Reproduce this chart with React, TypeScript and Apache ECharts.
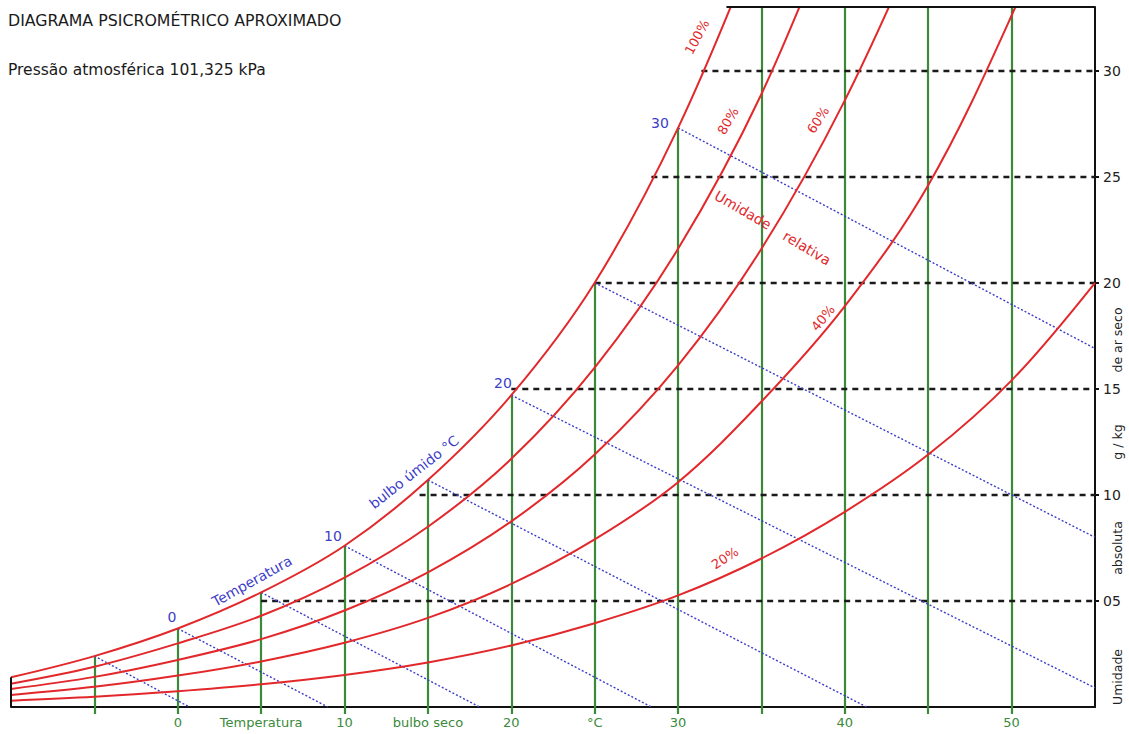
import React, { useEffect, useRef } from "react";
import * as echarts from "echarts";

// Dry-bulb temperatures (°C) at which the relative-humidity curves were read
const temps = [-10, -5, 0, 5, 10, 15, 20, 25, 30, 35, 40, 45, 50, 55];
// Absolute humidity (g/kg dry air)
const rh100 = [1.4, 2.4, 3.7, 5.4, 7.6, 10.7, 14.7, 20.0, 27.3, 36.6];
const rh80 = [1.1, 1.9, 3.0, 4.3, 6.1, 8.5, 11.7, 16.0, 21.6, 28.9, 38.3];
const rh60 = [0.85, 1.42, 2.22, 3.2, 4.55, 6.35, 8.75, 11.9, 16.1, 21.6, 28.6, 37.2];
const rh40 = [0.57, 0.95, 1.48, 2.15, 3.03, 4.2, 5.8, 7.9, 10.6, 14.4, 18.9, 24.6, 32.6, 42.0];
const rh20 = [0.3, 0.48, 0.74, 1.07, 1.51, 2.1, 2.9, 3.95, 5.26, 7.0, 9.2, 11.9, 15.4, 20.0];
const rhSeries = [rh100, rh80, rh60, rh40, rh20];
const rhNames = ["100%", "80%", "60%", "40%", "20%"];

// Vertical dry-bulb lines
const greenTemps = [-5, 0, 5, 10, 15, 20, 25, 30, 35, 40, 45, 50];
// Wet-bulb lines: start on saturation, end points
const wbTemps = [-5, 0, 5, 10, 15, 20, 25, 30];
const wbEnds = [
  [0.7, 0],
  [9.0, 0],
  [18.1, 0],
  [28.4, 0],
  [41.3, 0],
  [55, 0.9],
  [55, 8.0],
  [55, 16.9],
];
// Horizontal absolute-humidity lines
const dryLevels = [5, 10, 15, 20, 25, 30];
const dryStarts = [5.0, 14.5, 20.0, 25.0, 28.4, 31.4];
const satTopTemp = 32.9;

const xTickValues = [-5, 0, 5, 10, 15, 20, 25, 30, 35, 40, 45, 50];
const xLabelValues = [0, 5, 10, 15, 20, 25, 30, 40, 50];
const xLabelTexts = ["0", "Temperatura", "10", "bulbo seco", "20", "°C", "30", "40", "50"];
const yLabelValues = [5, 10, 15, 20, 25, 30];
const yLabelTexts = ["05", "10", "15", "20", "25", "30"];

const X_MIN = -10;
const X_MAX = 55;
const Y_MAX = 33;

const RED = "#e2282b";
const GREEN = "#3a8a3a";
const BLUE = "#3c3cc8";
const FONT = "DejaVu Sans";

function satAt(t: number): number {
  const i = temps.indexOf(t);
  return i >= 0 && i < rh100.length ? Math.min(rh100[i], Y_MAX) : Y_MAX;
}

const deg = (d: number) => (d * Math.PI) / 180;

function txt(text: string, x: number, y: number, rot: number, color: string, size: number) {
  return {
    type: "text",
    x,
    y,
    rotation: deg(rot),
    z: 100,
    silent: true,
    style: {
      text,
      fill: color,
      font: `${size}px "${FONT}"`,
      textAlign: "center",
      textVerticalAlign: "middle",
    },
  };
}

export default function App() {
  const ref = useRef<HTMLDivElement>(null);

  useEffect(() => {
    if (!ref.current) return;
    const chart = echarts.init(ref.current, null, { renderer: "svg" });

    const series: any[] = [];

    series.push({
      type: "lines",
      coordinateSystem: "cartesian2d",
      silent: true,
      z: 2,
      lineStyle: { color: GREEN, width: 2.2, opacity: 1 },
      data: greenTemps.map((t) => ({ coords: [[t, 0], [t, satAt(t)]] })),
    });

    series.push({
      type: "lines",
      coordinateSystem: "cartesian2d",
      silent: true,
      z: 3,
      lineStyle: { color: "#1a1a1a", width: 2.4, type: [6, 5], opacity: 1 },
      data: dryLevels.map((w, i) => ({ coords: [[dryStarts[i], w], [X_MAX, w]] })),
    });

    series.push({
      type: "lines",
      coordinateSystem: "cartesian2d",
      silent: true,
      z: 4,
      lineStyle: { color: BLUE, width: 1.4, type: [2, 2], opacity: 1 },
      data: wbTemps.map((t, i) => ({ coords: [[t, satAt(t)], wbEnds[i]] })),
    });

    rhSeries.forEach((arr, k) => {
      series.push({
        type: "line",
        name: rhNames[k],
        smooth: 0.35,
        showSymbol: false,
        silent: true,
        z: 5,
        lineStyle: { color: RED, width: 2 },
        data: arr.map((w, i) => [temps[i], w]),
      });
    });

    // Frame pieces: top edge right of saturation, short left edge
    series.push({
      type: "lines",
      coordinateSystem: "cartesian2d",
      silent: true,
      clip: false,
      z: 6,
      lineStyle: { color: "#111", width: 2, opacity: 1 },
      data: [
        { coords: [[satTopTemp, Y_MAX], [X_MAX, Y_MAX]] },
        { coords: [[X_MIN, 0], [X_MIN, rh100[0]]] },
      ],
    });

    const graphics: any[] = [
      {
        type: "text",
        x: 8,
        y: 20,
        z: 100,
        silent: true,
        style: {
          text: "DIAGRAMA PSICROMÉTRICO APROXIMADO",
          fill: "#1a1a1a",
          font: `15.8px "${FONT}"`,
          textAlign: "left",
          textVerticalAlign: "middle",
        },
      },
      {
        type: "text",
        x: 8,
        y: 70,
        z: 100,
        silent: true,
        style: {
          text: "Pressão atmosférica 101,325 kPa",
          fill: "#1a1a1a",
          font: `15.5px "${FONT}"`,
          textAlign: "left",
          textVerticalAlign: "middle",
        },
      },
      txt("100%", 697, 37, 62, RED, 13),
      txt("80%", 728, 121, 60, RED, 13),
      txt("60%", 818, 120, 57, RED, 13),
      txt("40%", 823, 318, 50, RED, 13),
      txt("20%", 725, 558, 33, RED, 13),
      txt("Umidade", 743, 210, -30, RED, 14),
      txt("relativa", 807, 248, -31, RED, 14),
      txt("0", 172, 617, 0, BLUE, 14),
      txt("10", 333, 536, 0, BLUE, 14),
      txt("20", 503, 383, 0, BLUE, 14),
      txt("30", 660, 123, 0, BLUE, 14),
      txt("Temperatura", 252, 581, 29, BLUE, 14),
      txt("bulbo úmido °C", 414, 472, 38, BLUE, 14),
      txt("Umidade", 1117, 677, 90, "#222", 12.5),
      txt("absoluta", 1117, 548, 90, "#222", 12.5),
      txt("g / kg", 1117, 442, 90, "#222", 12.5),
      txt("de ar seco", 1117, 340, 90, "#222", 12.5),
    ];

    const option: any = {
      animation: false,
      backgroundColor: "#ffffff",
      grid: { left: 11, right: 34, top: 7, bottom: 27, containLabel: false },
      xAxis: {
        type: "value",
        min: X_MIN,
        max: X_MAX,
        interval: 5,
        splitLine: { show: false },
        axisLine: { show: true, onZero: false, lineStyle: { color: "#111", width: 2 } },
        axisTick: {
          show: true,
          customValues: xTickValues,
          length: 7,
          lineStyle: { color: GREEN, width: 2.2 },
        },
        axisLabel: {
          customValues: xLabelValues,
          margin: 9,
          color: GREEN,
          fontFamily: FONT,
          fontSize: 13,
          formatter: (v: number) => {
            const i = xLabelValues.indexOf(v);
            return i >= 0 ? xLabelTexts[i] : "";
          },
        },
      },
      yAxis: {
        type: "value",
        position: "right",
        min: 0,
        max: Y_MAX,
        interval: 5,
        splitLine: { show: false },
        axisLine: { show: true, onZero: false, lineStyle: { color: "#111", width: 2 } },
        axisTick: {
          show: true,
          customValues: yLabelValues,
          length: 4,
          lineStyle: { color: "#111", width: 2 },
        },
        axisLabel: {
          customValues: yLabelValues,
          margin: 8,
          color: "#222",
          fontFamily: FONT,
          fontSize: 14,
          formatter: (v: number) => {
            const i = yLabelValues.indexOf(v);
            return i >= 0 ? yLabelTexts[i] : "";
          },
        },
      },
      series,
      graphic: graphics,
    };

    chart.setOption(option);
    return () => chart.dispose();
  }, []);

  return (
    <div
      ref={ref}
      style={{ position: "fixed", left: 0, top: 0, width: 1129, height: 734, background: "#fff" }}
    />
  );
}
